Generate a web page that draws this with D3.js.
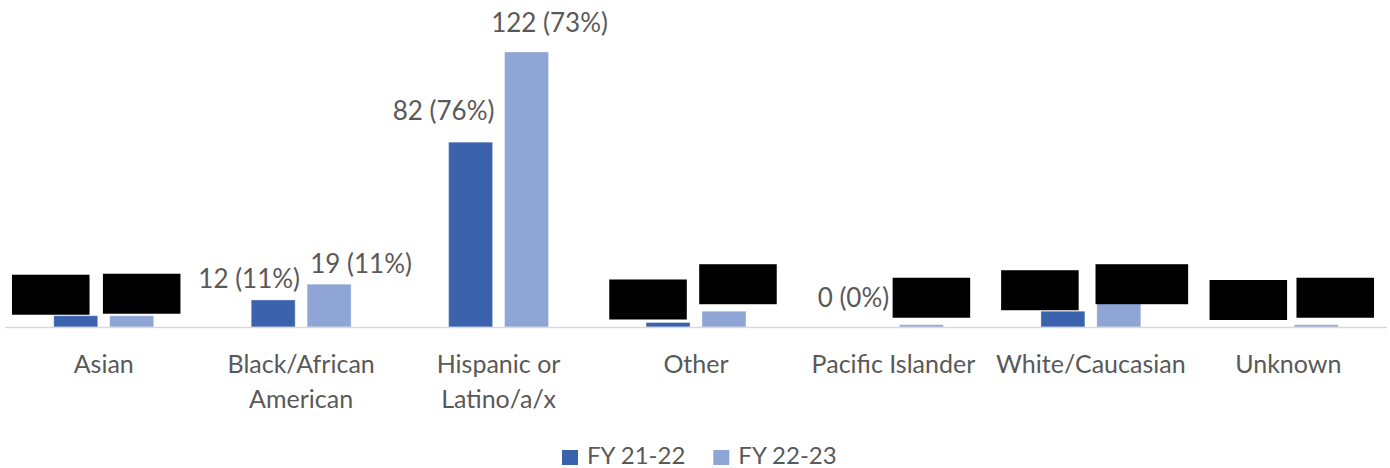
<!DOCTYPE html>
<html>
<head>
<script src='https://d3js.org/d3.v7.min.js'></script>
<style>
body {margin:0; background:#fff;}
svg text {font-family:Lato, 'Open Sans', sans-serif; fill:#595959;}
</style>
</head>
<body>
<svg id='chart' width=1390 height=468></svg>
<script>
// data
var categories = ['Asian','Black/African American','Hispanic or Latino/a/x','Other','Pacific Islander','White/Caucasian','Unknown']
var tickLines = [['Asian'],['Black/African','American'],['Hispanic or','Latino/a/x'],['Other'],['Pacific Islander'],['White/Caucasian'],['Unknown']]
var series = ['FY 21-22','FY 22-23']
var fy2122 = [5,12,82,2,0,7,0]
var fy2223 = [5,19,122,7,1,11,1]
var pct2122 = [5,11,76,2,0,6,0]
var pct2223 = [3,11,73,4,1,7,1]
// labels that are blacked out in the original
var hidden2122 = [true,false,false,true,false,true,true]
var hidden2223 = [true,false,false,true,true,true,true]
var colors = ['#3b63ad','#8fa5d5']

// label nudges (layout only): dx from bar centre, dy from bar top
var nudge2122 = [[-25,-12],[-24,-12],[-27,-22],[-20,-14],[-12,-20],[-23,-12],[-12,-18]]
var nudge2223 = [[10,-13],[32,-11],[23,-20],[14,-18],[10,-18],[23,-9],[19,-18]]

var baseline = 327
var svg = d3.select('#chart')

var x = d3.scaleBand().domain(categories).range([5,1387])
var bw = x.bandwidth()
var x1 = d3.scaleBand().domain(series).range([bw*0.247,bw*0.753]).paddingInner(0.214)
var y = d3.scaleLinear().domain([0,140]).range([baseline,baseline-140*2.254])

var values = [fy2122,fy2223]
var pcts = [pct2122,pct2223]
var hidden = [hidden2122,hidden2223]
var nudges = [nudge2122,nudge2223]

//bars
series.forEach(function(s,k){
  svg.append('g').selectAll('rect')
    .data(values[k])
    .enter()
    .append('rect')
      .attr('x',function(d,i){return x(categories[i])+x1(s);})
      .attr('y',function(d){return y(d);})
      .attr('width',x1.bandwidth())
      .attr('height',function(d){return baseline-y(d);})
      .attr('fill',colors[k])
      .attr('stroke','#ffffff')
      .attr('stroke-opacity',0.35)
      .attr('stroke-width',1);
});

//axis line
svg.append('line')
  .attr('x1',x.range()[0]).attr('x2',x.range()[1])
  .attr('y1',baseline+0.5).attr('y2',baseline+0.5)
  .attr('stroke','#d9d9d9').attr('stroke-width',1.5);

//data labels
series.forEach(function(s,k){
  values[k].forEach(function(d,i){
    var cx = x(categories[i])+x1(s)+x1.bandwidth()/2+nudges[k][i][0]
    var cy = y(d)+nudges[k][i][1]
    var t = svg.append('text')
      .attr('x',cx).attr('y',cy)
      .attr('text-anchor','middle')
      .style('font-size','26px')
      .text(d+' ('+pcts[k][i]+'%)');
    if (hidden[k][i]) {
      var b = t.node().getBBox()
      svg.append('rect')
        .attr('x',cx-(b.width+6)/2)
        .attr('y',cy-29)
        .attr('width',b.width+6)
        .attr('height',40)
        .attr('fill','#000');
    }
  });
});

//category labels
tickLines.forEach(function(lines,i){
  lines.forEach(function(l,j){
    svg.append('text')
      .attr('x',x(categories[i])+bw/2)
      .attr('y',373+j*35)
      .attr('text-anchor','middle')
      .style('font-size','25px')
      .text(l);
  });
});

//legend
var legend = svg.append('g')
var lx = 562
series.forEach(function(s,k){
  legend.append('rect')
    .attr('x',lx).attr('y',450)
    .attr('width',16).attr('height',15)
    .attr('fill',colors[k]);
  var t = legend.append('text')
    .attr('x',lx+25).attr('y',464)
    .style('font-size','24px')
    .text(s);
  lx = lx+25+t.node().getComputedTextLength()+28
});
</script>
</body>
</html>
